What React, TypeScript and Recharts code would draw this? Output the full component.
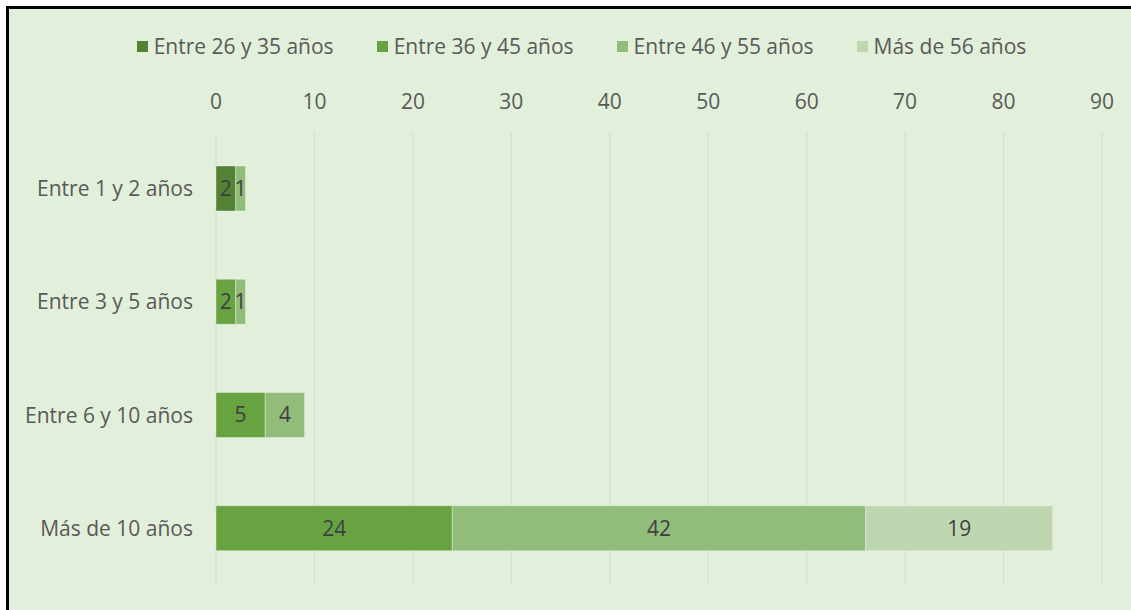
import { BarChart, Bar, XAxis, YAxis, CartesianGrid, Legend, LabelList } from 'recharts'

const categories = ['Entre 1 y 2 años', 'Entre 3 y 5 años', 'Entre 6 y 10 años', 'Más de 10 años']
const seriesNames = ['Entre 26 y 35 años', 'Entre 36 y 45 años', 'Entre 46 y 55 años', 'Más de 56 años']
const age26to35 = [2, 0, 0, 0]
const age36to45 = [0, 2, 5, 24]
const age46to55 = [1, 1, 4, 42]
const age56plus = [0, 0, 0, 19]
const xTicks = [0, 10, 20, 30, 40, 50, 60, 70, 80, 90]

const COLORS = ['#548235', '#68a342', '#92bc79', '#bed7b1']
const FONT = '"Open Sans", sans-serif'
const TEXT = '#595959'
const FS = 21

const keys = ['a', 'b', 'c', 'd']
const chartData = categories.map((name, i) => ({
    name,
    a: age26to35[i],
    b: age36to45[i],
    c: age46to55[i],
    d: age56plus[i],
}))

const LegendContent = () => (
    <div style={{ display: 'flex', justifyContent: 'center', alignItems: 'center', height: 30, gap: 43 }}>
        {seriesNames.map((s, i) => (
            <div key={s} style={{ display: 'flex', alignItems: 'center', gap: 6 }}>
                <span style={{ width: 11, height: 11, background: COLORS[i], display: 'inline-block' }} />
                <span style={{ fontFamily: FONT, fontSize: FS, color: TEXT }}>{s}</span>
            </div>
        ))}
    </div>
)

export default function App() {
    return (
        <div style={{ position: 'absolute', left: 0, top: 0, width: 1131, height: 610, overflow: 'hidden', background: '#fff' }}>
            <div style={{
                position: 'absolute',
                left: 6,
                top: 6,
                width: 1160,
                height: 620,
                border: '3px solid #000',
                background: '#e2efda',
            }}>
                <BarChart
                    width={1144}
                    height={600}
                    data={chartData}
                    layout="vertical"
                    margin={{ top: 53, right: 51, left: 0, bottom: 24 }}
                >
                    <CartesianGrid stroke="#d9d9d9" horizontal={false} />
                    <XAxis
                        type="number"
                        orientation="top"
                        domain={[0, 90]}
                        ticks={xTicks}
                        height={40}
                        axisLine={false}
                        tickLine={false}
                        tickSize={0}
                        tickMargin={23}
                        tick={{ fill: TEXT, fontSize: FS, fontFamily: FONT }}
                    />
                    <YAxis
                        type="category"
                        dataKey="name"
                        width={207}
                        axisLine={false}
                        tickLine={false}
                        tickSize={0}
                        tickMargin={23}
                        tick={{ fill: TEXT, fontSize: FS, fontFamily: FONT }}
                    />
                    <Legend verticalAlign="top" wrapperStyle={{ top: 22, left: 26 }} content={<LegendContent />} />
                    {keys.map((k, i) => (
                        <Bar
                            key={k}
                            dataKey={k}
                            name={seriesNames[i]}
                            stackId="s"
                            fill={COLORS[i]}
                            stroke="#ffffff"
                            strokeOpacity={0.35}
                            barSize={45}
                            isAnimationActive={false}
                        >
                            <LabelList
                                dataKey={k}
                                position="center"
                                formatter={(v: any) => (v ? v : '')}
                                style={{ fill: '#404040', fontSize: FS, fontFamily: FONT }}
                            />
                        </Bar>
                    ))}
                </BarChart>
            </div>
        </div>
    )
}
